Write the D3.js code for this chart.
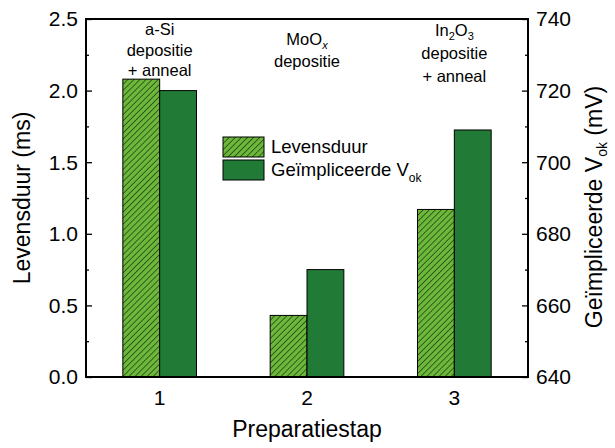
<!DOCTYPE html>
<html>
<head>
<meta charset="utf-8">
<script src="https://cdn.jsdelivr.net/npm/d3@7"></script>
<style>
  body { margin: 0; background: #fff; }
  text { font-family: "Liberation Sans", Arial, sans-serif; fill: #000; }
</style>
</head>
<body>
<div id="chart"></div>
<script>
// data
var steps = [1, 2, 3]
var lifetime = [2.08, 0.43, 1.17]        // ms, left axis
var impliedVoc = [720, 670, 709]         // mV, right axis
var leftTicks = [0, 0.5, 1.0, 1.5, 2.0, 2.5]
var rightTicks = [640, 660, 680, 700, 720, 740]
var stepNotes = [
  [["a-Si"], ["depositie"], ["+ anneal"]],
  [["MoO", "x"], ["depositie"]],
  [["In", "2", "O", "3"], ["depositie"], ["+ anneal"]]
]

var width = 615, height = 448
var margin = {top: 19, right: 87, bottom: 71, left: 86}
var lightGreen = "#6cb83a", darkGreen = "#217a36"

var svg = d3.select("#chart").append("svg")
  .attr("width", width)
  .attr("height", height)

var defs = svg.append("defs")
var pat = defs.append("pattern")
  .attr("id", "hatch")
  .attr("patternUnits", "userSpaceOnUse")
  .attr("width", 4.3)
  .attr("height", 4.3)
  .attr("patternTransform", "rotate(45)")
pat.append("rect").attr("width", 4.3).attr("height", 4.3).attr("fill", lightGreen)
pat.append("line").attr("x1", 0).attr("y1", 0).attr("x2", 0).attr("y2", 4.3)
  .attr("stroke", "#000").attr("stroke-width", 1)

var x = d3.scaleLinear()
  .domain([0.5, 3.5])
  .range([margin.left, width - margin.right])

var yL = d3.scaleLinear()
  .domain([0, 2.5])
  .range([height - margin.bottom, margin.top])

var yR = d3.scaleLinear()
  .domain([640, 740])
  .range([height - margin.bottom, margin.top])

var barW = 0.25
var base = height - margin.bottom

// bars
svg.append("g").selectAll("rect")
  .data(steps)
  .join("rect")
    .attr("x", (d) => x(d - barW))
    .attr("width", x(barW) - x(0))
    .attr("y", (d, i) => yL(lifetime[i]))
    .attr("height", (d, i) => base - yL(lifetime[i]))
    .attr("fill", "url(#hatch)")
    .attr("stroke", "#000")
    .attr("stroke-width", 1)

svg.append("g").selectAll("rect")
  .data(steps)
  .join("rect")
    .attr("x", (d) => x(d))
    .attr("width", x(barW) - x(0))
    .attr("y", (d, i) => yR(impliedVoc[i]))
    .attr("height", (d, i) => base - yR(impliedVoc[i]))
    .attr("fill", darkGreen)
    .attr("stroke", "#000")
    .attr("stroke-width", 1)

// axes
var leftAxis = svg.append("g")
  .attr("transform", `translate(${margin.left},0)`)
leftAxis.call(d3.axisLeft(yL).tickValues(d3.range(0, 2.51, 0.25)).tickSize(-3).tickFormat(""))
leftAxis.call(g => g.selectAll(".tick").filter(d => Math.round(d * 4) % 2 === 0).select("line").attr("x2", 6))
leftAxis.selectAll(".domain").remove()
leftAxis.selectAll("line").attr("stroke-width", 1.3)
leftAxis.selectAll("text.lab")
  .data(leftTicks)
  .join("text")
    .attr("class", "lab")
    .attr("x", -8)
    .attr("y", d => yL(d))
    .attr("dy", "0.35em")
    .attr("text-anchor", "end")
    .attr("font-size", 21)
    .text(d => d.toFixed(1))

var rightAxis = svg.append("g")
  .attr("transform", `translate(${width - margin.right},0)`)
rightAxis.call(d3.axisRight(yR).tickValues(d3.range(640, 741, 10)).tickSize(-3).tickFormat(""))
rightAxis.call(g => g.selectAll(".tick").filter(d => d % 20 === 0).select("line").attr("x2", -6))
rightAxis.selectAll(".domain").remove()
rightAxis.selectAll("line").attr("stroke-width", 1.3)
rightAxis.selectAll("text.lab")
  .data(rightTicks)
  .join("text")
    .attr("class", "lab")
    .attr("x", 8)
    .attr("y", d => yR(d))
    .attr("dy", "0.35em")
    .attr("text-anchor", "start")
    .attr("font-size", 21)
    .text(d => d)

// frame
svg.append("rect")
  .attr("x", margin.left)
  .attr("y", margin.top)
  .attr("width", width - margin.left - margin.right)
  .attr("height", height - margin.top - margin.bottom)
  .attr("fill", "none")
  .attr("stroke", "#000")
  .attr("stroke-width", 2)

// x tick labels
svg.append("g").selectAll("text")
  .data(steps)
  .join("text")
    .attr("x", d => x(d))
    .attr("y", 405)
    .attr("text-anchor", "middle")
    .attr("font-size", 21)
    .text(d => d)

// axis titles
svg.append("text")
  .attr("x", x(2))
  .attr("y", 437)
  .attr("text-anchor", "middle")
  .attr("font-size", 23)
  .text("Preparatiestap")

svg.append("text")
  .attr("transform", "translate(30,198) rotate(-90)")
  .attr("text-anchor", "middle")
  .attr("font-size", 23)
  .text("Levensduur (ms)")

var rt = svg.append("text")
  .attr("transform", "translate(602,207) rotate(-90)")
  .attr("text-anchor", "middle")
  .attr("font-size", 23)
rt.append("tspan").text("Geïmpliceerde V")
rt.append("tspan").attr("font-size", 14).attr("dy", 5).text("ok")
rt.append("tspan").attr("dy", -5).text(" (mV)")

// step annotations
var noteTop = [35, 45, 35.5]
var noteGap = [20.5, 22, 23]
stepNotes.forEach(function(lines, i) {
  lines.forEach(function(parts, j) {
    var t = svg.append("text")
      .attr("x", x(steps[i]))
      .attr("y", noteTop[i] + j * noteGap[i])
      .attr("text-anchor", "middle")
      .attr("font-size", 16.5)
    if (parts.length === 1) {
      t.text(parts[0])
    } else if (parts.length === 2) {
      t.append("tspan").text(parts[0])
      t.append("tspan").attr("font-size", 11).attr("font-style", "italic").attr("dy", 4).text(parts[1])
    } else {
      t.append("tspan").text(parts[0])
      t.append("tspan").attr("font-size", 11).attr("dy", 4).text(parts[1])
      t.append("tspan").attr("dy", -4).text(parts[2])
      t.append("tspan").attr("font-size", 11).attr("dy", 4).text(parts[3])
    }
  })
})

// legend
var legend = svg.append("g").attr("transform", "translate(223,137)")
legend.append("rect").attr("width", 41).attr("height", 20)
  .attr("fill", "url(#hatch)").attr("stroke", "#000").attr("stroke-width", 1)
legend.append("rect").attr("y", 23).attr("width", 41).attr("height", 20)
  .attr("fill", darkGreen).attr("stroke", "#000").attr("stroke-width", 1)
legend.append("text").attr("x", 48).attr("y", 10).attr("dy", "0.35em")
  .attr("font-size", 18.5).text("Levensduur")
var lt = legend.append("text").attr("x", 48).attr("y", 33).attr("dy", "0.35em")
  .attr("font-size", 18.5)
lt.append("tspan").text("Geïmpliceerde V")
lt.append("tspan").attr("font-size", 12).attr("dy", 6).text("ok")
</script>
</body>
</html>
